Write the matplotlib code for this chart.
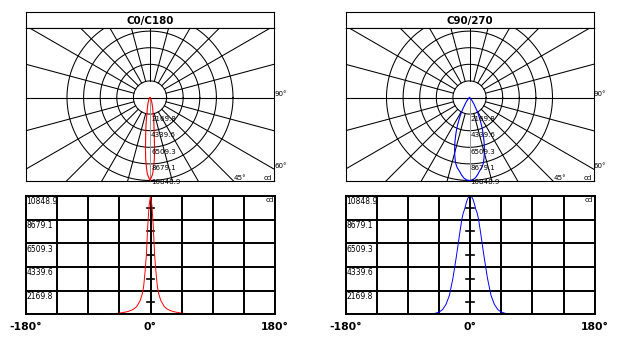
import numpy as np
import matplotlib
matplotlib.use("Agg")
import matplotlib.pyplot as plt

# photometric data (half plane, symmetric), gamma in degrees, intensity in cd
gamma = [0, 2, 4, 6, 8, 10, 12, 15, 20, 25, 30, 35, 40, 45, 50, 55, 60, 65, 70, 75, 80, 90,
         105, 120, 135, 150, 165, 180]
c0_c180 = [10848.9, 10000, 8100, 5400, 3800, 2500, 1850, 1250, 700, 450, 310, 220, 160, 110,
           75, 50, 30, 15, 5, 0, 0, 0, 0, 0, 0, 0, 0, 0]
c90_c270 = [10848.9, 10780, 10550, 10150, 9650, 9300, 8750, 7500, 5300, 3300, 1750, 900, 430,
            200, 100, 50, 25, 10, 0, 0, 0, 0, 0, 0, 0, 0, 0, 0]

i_max = 10848.9
ring_labels = ["2169.8", "4339.6", "6509.3", "8679.1", "10848.9"]
planes = ["C0/C180", "C90/270"]
colors = ["red", "blue"]

W, H = 633, 340


def px(x0, y0, x1, y1):
    # pixel box -> figure fraction
    return [x0 / W, 1 - y1 / H, (x1 - x0) / W, (y1 - y0) / H]


def full_curve(g, vals):
    g = np.array(g, float)
    v = np.array(vals, float)
    gg = np.concatenate([-g[::-1], g[1:]])
    vv = np.concatenate([v[::-1], v[1:]])
    return gg, vv


fig = plt.figure(figsize=(W / 100, H / 100), dpi=100)
plt.rcParams['font.family'] = ['DejaVu Sans']

R = 83.0   # outer ring radius in px
hub = R / 5

for n, (left, title, vals, col) in enumerate(zip([26, 345.5], planes, [c0_c180, c90_c270], colors)):
    right = left + 248
    cy = 97.5

    # title band
    tax = fig.add_axes(px(left, 11.7, right, 28.3))
    tax.set_xticks([]); tax.set_yticks([])
    for s in tax.spines.values():
        s.set_linewidth(0.8)
    tax.text(0.5, 0.45, title, ha='center', va='center', fontsize=7.4, fontweight='bold',
             transform=tax.transAxes)

    # polar diagram drawn in pixel units around the centre
    pax = fig.add_axes(px(left, 28.3, right, 181))
    pax.set_xlim(-124, 124)
    pax.set_ylim(-(181 - cy), cy - 28.3)
    pax.set_xticks([]); pax.set_yticks([])
    for s in pax.spines.values():
        s.set_linewidth(0.8)

    t = np.linspace(0, 2 * np.pi, 400)
    for k in range(1, 6):
        pax.plot(k * hub * np.cos(t), k * hub * np.sin(t), color='black', lw=0.75)
    for a in range(0, 360, 15):
        ar = np.radians(a)
        if a in (90, 270):
            continue
        if a == 0:
            pax.plot([0, 0], [0, -300], color='#999999', lw=0.75)
            continue
        pax.plot([hub * np.sin(ar), 300 * np.sin(ar)], [-hub * np.cos(ar), -300 * np.cos(ar)],
                 color='black', lw=0.75)
    pax.plot([-124, 124], [0, 0], color='black', lw=0.8)

    gg, vv = full_curve(gamma, vals)
    # fine interpolation only for a smooth polar outline
    gf = np.linspace(-180, 180, 1441)
    vf = np.interp(gf, gg, vv)
    r = vf / i_max * R
    pax.plot(r * np.sin(np.radians(gf)), -r * np.cos(np.radians(gf)), color=col, lw=0.8)

    for k, lab in enumerate(ring_labels):
        yy = -((k + 1) * hub + 4.5) if k < 4 else -84.5
        pax.text(1, yy, lab, ha='left', va='center', fontsize=5.1, clip_on=False)
    pax.text(124.5, 3.5, "90°", ha='left', va='center', fontsize=5.1, clip_on=False)
    pax.text(124.5, -124 / np.tan(np.radians(60)) + 3, "60°", ha='left', va='center',
             fontsize=5.1, clip_on=False)
    pax.text(84, -80, "45°", ha='left', va='center', fontsize=5.1, clip_on=False)
    pax.text(122, -80, "cd", ha='right', va='center', fontsize=5.1, clip_on=False)

    # cartesian diagram
    cleft = 26 if n == 0 else 345.7
    cax = fig.add_axes(px(cleft, 196, cleft + 249, 314.3))
    cax.set_xlim(-180, 180)
    cax.set_ylim(0, i_max)
    cax.set_xticks(np.arange(-180, 181, 45))
    cax.set_yticks(np.linspace(0, i_max, 6))
    cax.grid(True, color='black', lw=1.4)
    cax.tick_params(length=0, labelbottom=False, labelleft=False)
    for s in cax.spines.values():
        s.set_linewidth(1.4)
    step = i_max / 5
    for k in range(5):
        cax.plot([-5.5, 5.5], [(k + 0.5) * step] * 2, color='black', lw=1.2)
    cax.plot(gg, vv, color=col, lw=0.7)
    unit = i_max / 118.3
    for k, lab in enumerate(ring_labels[::-1]):
        cax.text(-179, i_max - k * step - 1.2 * unit, lab, ha='left', va='top', fontsize=5.5)
    cax.text(178, i_max - 1.5 * unit, "cd", ha='right', va='top', fontsize=5.1)
    for xv, lab in zip([-180, 0, 180], ["-180°", "0°", "180°"]):
        cax.text(xv, -12.5 * unit, lab, ha='center', va='center', fontsize=7.8,
                 fontweight='bold', clip_on=False)

fig.savefig("out.png", dpi=100)
